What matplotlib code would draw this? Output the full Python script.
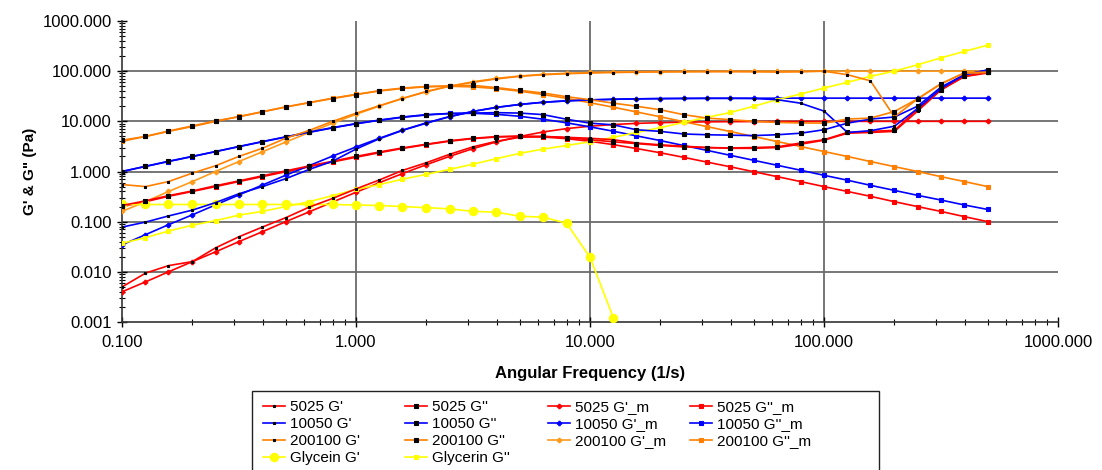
import matplotlib
matplotlib.use("Agg")
import matplotlib.pyplot as plt
from matplotlib.patches import Rectangle
from matplotlib.ticker import FixedLocator, LogLocator, NullFormatter, FuncFormatter

plt.rcParams['font.family'] = ['Liberation Sans', 'DejaVu Sans']

# angular frequency (1/s), 10 points per decade
freq = [0.1, 0.126, 0.158, 0.2, 0.251, 0.316, 0.398, 0.501, 0.631, 0.794,
        1.0, 1.26, 1.58, 2.0, 2.51, 3.16, 3.98, 5.01, 6.31, 7.94,
        10.0, 12.6, 15.8, 20.0, 25.1, 31.6, 39.8, 50.1, 63.1, 79.4,
        100.0, 126.0, 158.0, 200.0, 251.0, 316.0, 398.0, 501.0]

# 5025 sample
g1_5025 = [0.005, 0.0094, 0.0133, 0.016, 0.03, 0.05, 0.078, 0.12, 0.195, 0.29,
           0.45, 0.68, 1.05, 1.5, 2.2, 3.1, 4.0, 4.8, 5.0, 4.8,
           4.6, 4.3, 3.7, 3.4, 3.2, 3.0, 2.9, 2.9, 3.0, 3.5,
           4.2, 5.8, 6.0, 6.3, 16.0, 42.0, 78.0, 92.0]
g2_5025 = [0.21, 0.26, 0.33, 0.41, 0.52, 0.65, 0.82, 1.03, 1.29, 1.6,
           2.0, 2.45, 2.95, 3.5, 4.1, 4.6, 4.95, 5.1, 5.0, 4.7,
           4.3, 3.9, 3.6, 3.3, 3.1, 3.0, 2.95, 3.0, 3.1, 3.7,
           4.3, 6.0, 6.3, 6.6, 17.5, 43.0, 79.0, 95.0]
g1m_5025 = [0.004, 0.0063, 0.010, 0.016, 0.025, 0.040, 0.063, 0.10, 0.157, 0.246,
            0.385, 0.60, 0.91, 1.37, 2.0, 2.86, 3.88, 5.0, 6.14, 7.16,
            8.0, 8.64, 9.1, 9.41, 9.62, 9.76, 9.85, 9.9, 9.94, 9.96,
            9.98, 9.98, 9.99, 9.99, 10.0, 10.0, 10.0, 10.0]
g2m_5025 = [0.20, 0.25, 0.32, 0.40, 0.50, 0.63, 0.79, 0.99, 1.24, 1.55,
            1.92, 2.37, 2.88, 3.44, 4.01, 4.52, 4.87, 4.99, 4.87, 4.51,
            4.0, 3.43, 2.87, 2.36, 1.92, 1.54, 1.24, 0.99, 0.79, 0.63,
            0.50, 0.40, 0.32, 0.25, 0.20, 0.16, 0.126, 0.10]

# 10050 sample
g1_10050 = [0.078, 0.098, 0.13, 0.17, 0.24, 0.36, 0.5, 0.72, 1.1, 1.6,
            2.8, 4.5, 6.6, 9.2, 12.4, 15.7, 18.9, 21.7, 24.0, 25.6,
            26.7, 27.5, 28.0, 28.4, 28.6, 28.7, 28.7, 28.5, 27.0, 23.0,
            16.0, 6.0, 6.5, 8.0, 18.0, 45.0, 85.0, 105.0]
g2_10050 = [1.0, 1.27, 1.6, 2.0, 2.5, 3.15, 3.95, 4.9, 6.1, 7.5,
            9.0, 10.5, 12.0, 13.4, 14.3, 14.6, 14.9, 14.6, 13.6, 11.0,
            9.2, 8.5, 6.8, 6.3, 5.6, 5.4, 5.3, 5.2, 5.4, 5.8,
            6.8, 9.2, 11.1, 12.2, 20.0, 48.0, 85.0, 106.0]
g1m_10050 = [0.0345, 0.055, 0.087, 0.137, 0.216, 0.341, 0.537, 0.842, 1.31, 2.03,
             3.08, 4.6, 6.68, 9.32, 12.4, 15.8, 19.0, 21.7, 24.0, 25.6,
             26.8, 27.5, 28.1, 28.4, 28.6, 28.8, 28.85, 28.9, 28.9, 29.0,
             29.0, 29.0, 29.0, 29.0, 29.0, 29.0, 29.0, 29.0]
g2m_10050 = [1.0, 1.26, 1.58, 1.99, 2.49, 3.13, 3.91, 4.87, 6.03, 7.39,
             8.94, 10.6, 12.2, 13.6, 14.35, 14.45, 13.8, 12.6, 11.0, 9.34,
             7.76, 6.34, 5.13, 4.13, 3.3, 2.64, 2.1, 1.67, 1.33, 1.06,
             0.84, 0.67, 0.53, 0.42, 0.335, 0.27, 0.215, 0.175]

# 200100 sample
g1_200100 = [0.55, 0.5, 0.63, 0.93, 1.3, 2.0, 2.9, 4.6, 6.6, 10.0,
             14.5, 20.5, 28.5, 39.5, 50.0, 60.0, 70.0, 79.0, 85.0, 89.0,
             92.0, 94.0, 95.5, 96.5, 97.0, 97.5, 97.5, 97.0, 96.0, 97.0,
             100.0, 85.0, 64.0, 12.3, 28.0, 56.0, 92.0, 95.0]
g2_200100 = [4.2, 5.0, 6.4, 8.1, 10.2, 12.3, 15.5, 19.4, 23.5, 28.5,
             34.0, 41.0, 46.0, 49.5, 51.0, 52.0, 47.0, 41.5, 36.6, 31.0,
             27.0, 23.0, 20.0, 17.0, 13.6, 11.6, 10.8, 10.0, 9.5, 9.3,
             9.2, 11.1, 11.6, 15.7, 28.0, 56.0, 92.0, 95.0]
g1m_200100 = [0.16, 0.25, 0.40, 0.63, 1.0, 1.58, 2.47, 3.87, 5.99, 9.17,
              13.8, 20.2, 28.7, 38.9, 50.2, 61.5, 71.7, 80.1, 86.4, 91.0,
              94.1, 96.2, 97.6, 98.4, 99.0, 99.4, 99.6, 99.75, 99.8, 99.9,
              99.9, 100, 100, 100, 100, 100, 100, 100]
g2m_200100 = [4.0, 5.0, 6.3, 7.9, 9.95, 12.5, 15.5, 19.3, 23.7, 28.9,
              34.5, 40.2, 45.2, 48.8, 50.0, 48.6, 45.0, 39.9, 34.2, 28.7,
              23.5, 19.1, 15.4, 12.3, 9.85, 7.86, 6.26, 4.98, 3.96, 3.15,
              2.5, 1.99, 1.58, 1.25, 1.0, 0.79, 0.63, 0.5]

# glycerin (G' only measured up to 12.6 1/s)
freq_gly1 = freq[:22]
g1_gly = [0.22, 0.22, 0.22, 0.22, 0.22, 0.22, 0.22, 0.22, 0.22, 0.22,
          0.215, 0.21, 0.2, 0.19, 0.18, 0.16, 0.155, 0.128, 0.123, 0.093,
          0.0195, 0.0012]
g2_gly = [0.037, 0.048, 0.065, 0.085, 0.105, 0.135, 0.16, 0.2, 0.25, 0.33,
          0.44, 0.55, 0.7, 0.88, 1.1, 1.4, 1.8, 2.3, 2.8, 3.3,
          3.9, 4.8, 6.0, 7.5, 9.5, 12.0, 15.0, 20.0, 27.0, 35.0,
          46.0, 60.0, 79.0, 100.0, 134.0, 184.0, 248.0, 330.0]

RED, BLUE, ORANGE, ORANGE2, YELLOW = '#FF0000', '#0000FF', '#FF7F00', '#FF9A1A', '#FFFF00'

W, H = 1102, 470
fig = plt.figure(figsize=(W / 100, H / 100), dpi=100)
ax = fig.add_axes([122 / W, 1 - 322 / H, 936 / W, 301 / H])
ax.set_xscale('log')
ax.set_yscale('log')
ax.set_xlim(0.1, 1000)
ax.set_ylim(0.001, 1000)

for yv in [0.01, 0.1, 1, 10, 100]:
    ax.axhline(yv, color='#6b6b6b', lw=1.3, zorder=1)
for xv in [1, 10, 100]:
    ax.axvline(xv, color='#6b6b6b', lw=1.3, zorder=1)

lines = {}


def draw(key, x, y, color, marker, ms, face, zo=3):
    ln, = ax.plot(x, y, color=color, lw=1.2, marker=marker, ms=ms,
                  mfc=face, mec=face, mew=0.8, zorder=zo)
    lines[key] = ln


# models
draw("5025 G'_m", freq, g1m_5025, RED, 'P', 3.2, RED)
draw("5025 G''_m", freq, g2m_5025, RED, 's', 3.0, RED)
draw("10050 G'_m", freq, g1m_10050, BLUE, 'P', 3.2, BLUE)
draw("10050 G''_m", freq, g2m_10050, BLUE, 's', 3.0, BLUE)
draw("200100 G'_m", freq, g1m_200100, ORANGE2, 'P', 3.2, ORANGE2)
draw("200100 G''_m", freq, g2m_200100, ORANGE, 's', 3.0, ORANGE)
# glycerin
draw("Glycein G'", freq_gly1, g1_gly, YELLOW, 'o', 6.0, YELLOW)
draw("Glycerin G''", freq, g2_gly, YELLOW, 's', 2.6, YELLOW)
# measured
draw("5025 G'", freq, g1_5025, RED, 's', 1.8, 'black', 4)
draw("5025 G''", freq, g2_5025, RED, 's', 2.3, 'black', 4)
draw("10050 G'", freq, g1_10050, BLUE, 's', 1.8, 'black', 4)
draw("10050 G''", freq, g2_10050, BLUE, 's', 2.3, 'black', 4)
draw("200100 G'", freq, g1_200100, ORANGE, 's', 1.8, 'black', 4)
draw("200100 G''", freq, g2_200100, ORANGE, 's', 2.3, 'black', 4)

fmt = FuncFormatter(lambda v, p: f'{v:.3f}')
ax.xaxis.set_major_locator(FixedLocator([0.1, 1, 10, 100, 1000]))
ax.yaxis.set_major_locator(FixedLocator([0.001, 0.01, 0.1, 1, 10, 100, 1000]))
ax.xaxis.set_major_formatter(fmt)
ax.yaxis.set_major_formatter(fmt)
ax.xaxis.set_minor_locator(LogLocator(base=10, subs=range(2, 10)))
ax.yaxis.set_minor_locator(LogLocator(base=10, subs=range(2, 10)))
ax.xaxis.set_minor_formatter(NullFormatter())
ax.yaxis.set_minor_formatter(NullFormatter())
ax.tick_params(which='major', direction='inout', length=7, width=1, labelsize=12, pad=4)
ax.tick_params(which='minor', direction='inout', length=4, width=0.8)
ax.tick_params(axis='x', which='major', pad=6)

for s in ['top', 'right']:
    ax.spines[s].set_visible(False)
for s in ['left', 'bottom']:
    ax.spines[s].set_color('#333333')
    ax.spines[s].set_linewidth(1.2)

ax.set_ylabel('G\' & G" (Pa)', fontsize=11, fontweight='bold')
ax.yaxis.set_label_coords((37 - 122) / 936, 0.5)
ax.set_xlabel('Angular Frequency (1/s)', fontsize=12, fontweight='bold')
ax.xaxis.set_label_coords(0.5, (322 - 366) / 301)

# legend: frame plus four columns laid out like the spreadsheet legend
frame = Rectangle((252 / W, 1 - 480 / H), (879 - 252) / W, (480 - 391) / H,
                  transform=fig.transFigure, facecolor='white',
                  edgecolor='#222222', lw=1.0, zorder=0)
fig.patches.append(frame)

columns = [
    ["5025 G'", "10050 G'", "200100 G'", "Glycein G'"],
    ["5025 G''", "10050 G''", "200100 G''", "Glycerin G''"],
    ["5025 G'_m", "10050 G'_m", "200100 G'_m"],
    ["5025 G''_m", "10050 G''_m", "200100 G''_m"],
]
col_x = [263, 405, 548, 690]
for cx, keys in zip(col_x, columns):
    fig.legend([lines[k] for k in keys], keys, loc='upper left',
               bbox_to_anchor=(cx / W, 1 - 400 / H), frameon=False,
               fontsize=11, borderpad=0, borderaxespad=0, labelspacing=0.2,
               handlelength=1.45, handletextpad=0.3)

fig.savefig('out.png', dpi=100)
